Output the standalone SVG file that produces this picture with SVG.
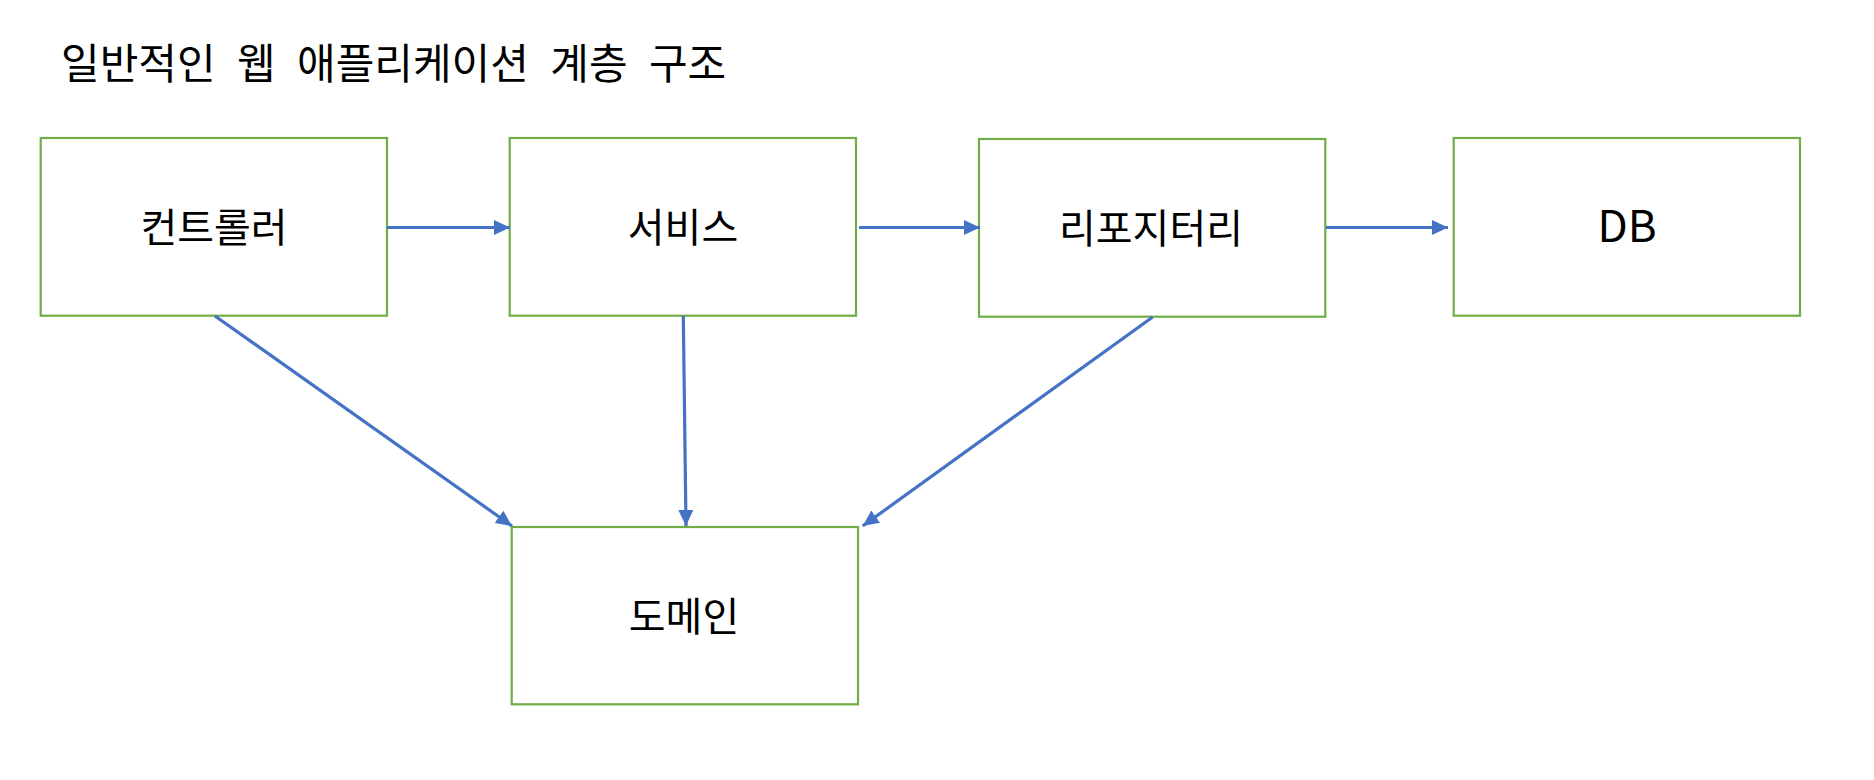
<svg xmlns="http://www.w3.org/2000/svg" width="1874" height="780" viewBox="0 0 1874 780">
  <style>
    .box { fill: #FFFFFF; stroke: #70AD47; stroke-width: 2.2; }
    .lbl { font-family: "Noto Sans CJK KR", "Noto Sans", sans-serif; font-size: 40px; fill: #000000; text-anchor: middle; }
    .title { font-family: "Noto Sans CJK KR", "Noto Sans", sans-serif; font-size: 42px; fill: #000000; word-spacing: 12px; }
    .conn { stroke: #4472C4; stroke-width: 3.2; fill: none; marker-end: url(#arrow); }
  </style>
  <defs>
    <marker id="arrow" markerUnits="userSpaceOnUse" markerWidth="18" markerHeight="16" refX="16" refY="7.5" orient="auto">
      <path d="M0,0 L16,7.5 L0,15 Z" fill="#4472C4"/>
    </marker>
  </defs>
  <rect width="1874" height="780" fill="#FFFFFF"/>
  <text class="title" x="61" y="79">일반적인 웹 애플리케이션 계층 구조</text>

  <g id="controller">
    <rect class="box" x="40.7" y="138" width="346.3" height="177.7"/>
    <text class="lbl" x="214" y="242">컨트롤러</text>
  </g>
  <g id="service">
    <rect class="box" x="509.7" y="138" width="346.3" height="177.7"/>
    <text class="lbl" x="683" y="242">서비스</text>
  </g>
  <g id="repository">
    <rect class="box" x="979" y="139" width="346.3" height="177.7"/>
    <text class="lbl" x="1151" y="243">리포지터리</text>
  </g>
  <g id="db">
    <rect class="box" x="1453.7" y="138" width="346.3" height="177.7"/>
    <text class="lbl" x="1627" y="242" style="font-size:44px">DB</text>
  </g>
  <g id="domain">
    <rect class="box" x="511.7" y="527" width="346.3" height="177.3"/>
    <text class="lbl" x="684" y="631">도메인</text>
  </g>

  <g id="connectors">
    <line class="conn" x1="387" y1="227.5" x2="510" y2="227.5"/>
    <line class="conn" x1="859" y1="227.5" x2="980" y2="227.5"/>
    <line class="conn" x1="1326" y1="227.5" x2="1448" y2="227.5"/>
    <line class="conn" x1="215" y1="316" x2="512" y2="526"/>
    <line class="conn" x1="683.3" y1="316" x2="686" y2="526"/>
    <line class="conn" x1="1152.7" y1="317" x2="862.7" y2="526"/>
  </g>
</svg>
